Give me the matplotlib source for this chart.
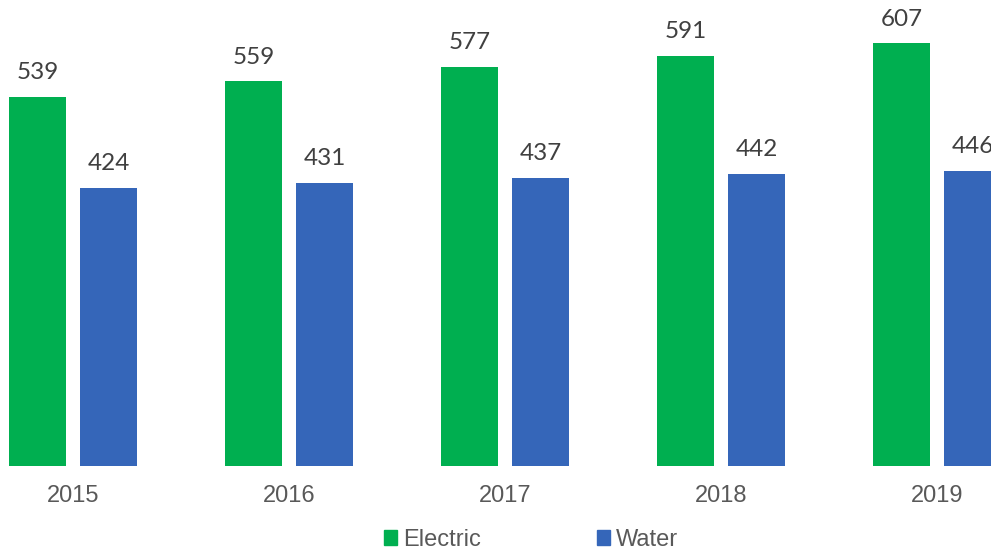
import numpy as np
import matplotlib.pyplot as plt
from matplotlib.patches import Patch

years = ["2015", "2016", "2017", "2018", "2019"]
electric = [539, 559, 577, 591, 607]
water = [424, 431, 437, 442, 446]

green = "#00AF50"
blue = "#3566B9"

fig = plt.figure(figsize=(9.91, 5.52), dpi=100)
ax = fig.add_axes([0, 0.1567, 1, 0.8433])

x = np.arange(len(years))
off = 0.164
w = 0.264
b1 = ax.bar(x - off, electric, w, color=green)
b2 = ax.bar(x + off, water, w, color=blue)

# value labels above each bar
for bars, vals in ((b1, electric), (b2, water)):
    for r, v in zip(bars, vals):
        ax.annotate(str(v), (r.get_x() + r.get_width() / 2, v),
                    xytext=(0, 10), textcoords="offset points",
                    ha="center", va="bottom", fontsize=17.5,
                    family=["Lato", "DejaVu Sans"], color="#404040")

ax.set_ylim(73, 662)
ax.set_xlim(-0.338, 4.25)
ax.set_xticks(x)
ax.set_xticklabels(years, fontsize=17, family="Liberation Sans", color="#595959")
ax.tick_params(axis="x", length=0, pad=14)
ax.set_yticks([])
for s in ax.spines.values():
    s.set_visible(False)

handles = [Patch(color=green, label="Electric"), Patch(color=blue, label="Water")]
fig.legend(handles=handles, loc="center", bbox_to_anchor=(0.536, 0.022),
           ncol=2, frameon=False, handlelength=0.55, handleheight=0.55,
           handletextpad=0.25, columnspacing=4.9,
           prop={"family": "Liberation Sans", "size": 17}, labelcolor="#595959")

fig.savefig("out.png", dpi=100)
